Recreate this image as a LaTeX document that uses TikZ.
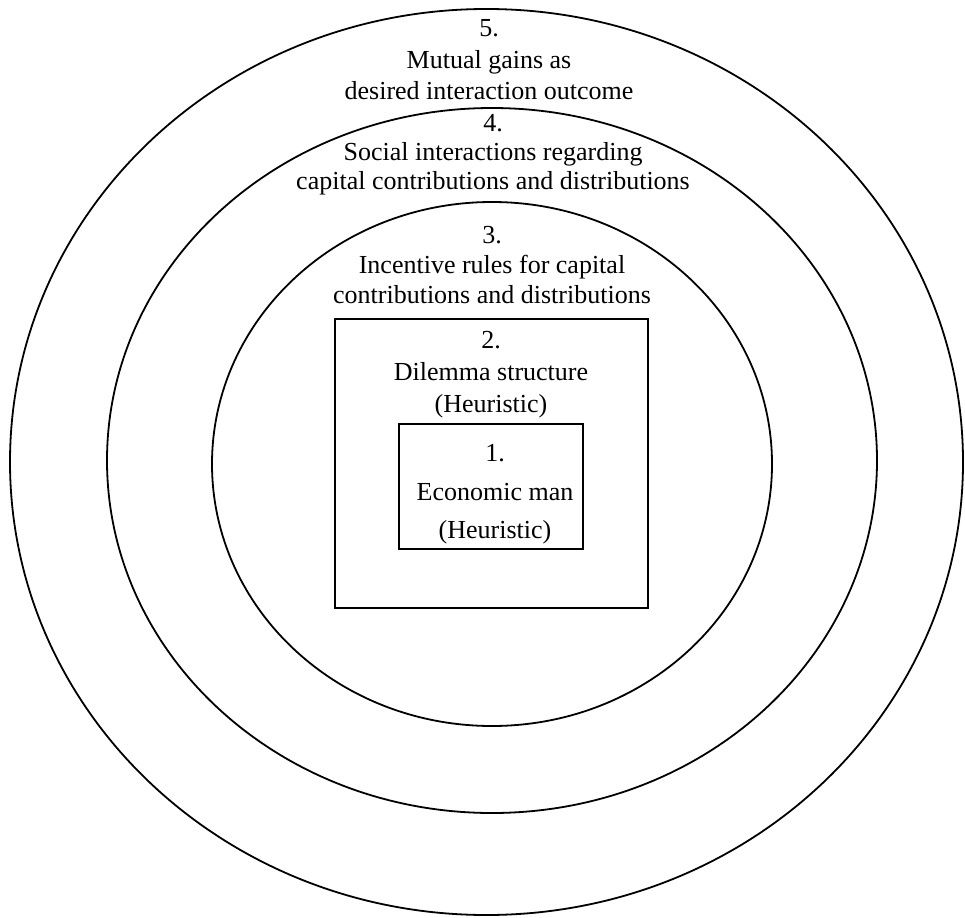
\documentclass[tikz,border=0pt]{standalone}
\usepackage{fontspec}
\setmainfont{Liberation Serif}
\usetikzlibrary{shapes.geometric}
\begin{document}
\begin{tikzpicture}[x=1pt, y=-1pt,
  ring/.style={ellipse, draw, line width=1.8pt, inner sep=0pt},
  box/.style={rectangle, draw, line width=1.8pt, inner sep=0pt},
  lbl/.style={align=center, anchor=base, inner sep=0pt, font=\fontsize{26}{30}\selectfont}]
\useasboundingbox (0,0) rectangle (965,917);
\node[ring, minimum width=953pt, minimum height=906pt] (ring5) at (486.5,462){};
\node[ring, minimum width=770pt, minimum height=705pt] (ring4) at (492,460.5){};
\node[ring, minimum width=560pt, minimum height=524pt] (ring3) at (492,464){};
\node[box, minimum width=313pt, minimum height=289pt] (box2) at (491.5,463.5){};
\node[box, minimum width=184pt, minimum height=125pt] (box1) at (491,486.5){};
% base = baseline of the last line
\node[lbl] (txt5) at (489,100){5.\\[1.5pt] Mutual gains as\\[1.5pt] desired interaction outcome};
\node[lbl] (txt4) at (493,190){4.\\[-1pt] Social interactions regarding\\[-1pt] capital contributions and distributions};
\node[lbl] (txt3) at (492,303){3.\\ Incentive rules for capital\\ contributions and distributions};
\node[lbl] (txt2) at (491,412){2.\\[2pt] Dilemma structure\\[2pt] (Heuristic)};
\node[lbl] (txt1) at (495,538){1.\\[9pt] Economic man\\[8pt] (Heuristic)};
\end{tikzpicture}
\end{document}
